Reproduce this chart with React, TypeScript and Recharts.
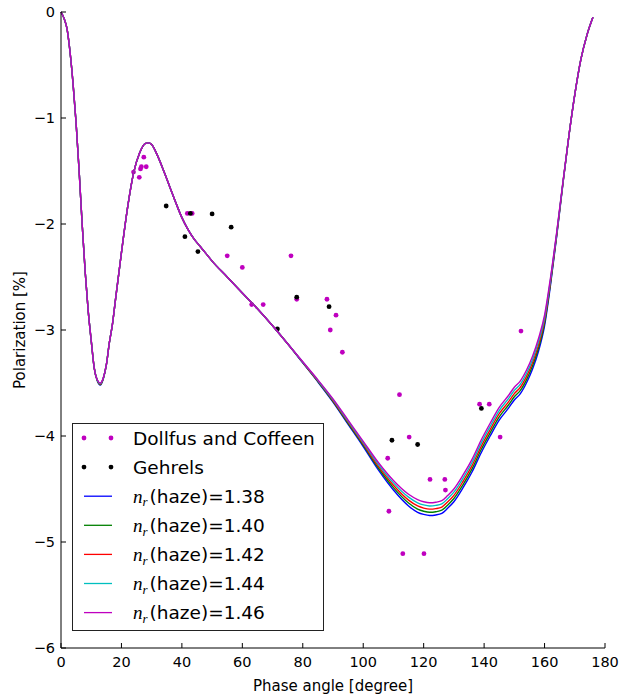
import React from 'react';
import { ComposedChart, Line, Scatter, XAxis, YAxis, Legend, Label } from 'recharts';

// Phase angle grid (degree) for model curves
const angles = [0, 1, 2, 3, 4, 5, 6, 7, 8, 9, 10, 11, 12, 13, 14, 15, 16, 17, 18, 20, 22, 24, 26, 28, 29, 30, 32, 34, 36, 38, 40, 42, 44, 46, 48, 50, 55, 60, 65, 70, 75, 80, 85, 90, 95, 100, 105, 110, 115, 118, 120, 122, 124, 126, 128, 130, 133, 136, 139, 142, 145, 148, 150, 152, 154, 156, 158, 160, 162, 164, 166, 168, 170, 172, 174, 176];

// Model curves: polarization [%] for n_r(haze)
const haze138 = [0, -0.06, -0.16, -0.38, -0.68, -1.05, -1.5, -2.0, -2.45, -2.82, -3.1, -3.36, -3.48, -3.52, -3.46, -3.33, -3.12, -2.95, -2.72, -2.27, -1.85, -1.52, -1.33, -1.24, -1.235, -1.25, -1.36, -1.5, -1.65, -1.8, -1.94, -2.05, -2.14, -2.21, -2.28, -2.35, -2.5, -2.65, -2.8, -2.96, -3.13, -3.31, -3.49, -3.68, -3.89, -4.1, -4.32, -4.51, -4.66, -4.72, -4.74, -4.75, -4.745, -4.73, -4.68, -4.62, -4.49, -4.34, -4.16, -4.0, -3.85, -3.74, -3.66, -3.6, -3.5, -3.37, -3.2, -2.96, -2.57, -2.12, -1.64, -1.18, -0.78, -0.45, -0.22, -0.05];
const haze140 = [0, -0.06, -0.16, -0.38, -0.68, -1.05, -1.5, -2.0, -2.45, -2.82, -3.1, -3.36, -3.477, -3.515, -3.457, -3.33, -3.12, -2.95, -2.72, -2.27, -1.85, -1.52, -1.33, -1.24, -1.235, -1.25, -1.36, -1.5, -1.65, -1.8, -1.94, -2.05, -2.14, -2.21, -2.28, -2.35, -2.5, -2.65, -2.8, -2.96, -3.13, -3.307, -3.485, -3.672, -3.88, -4.087, -4.302, -4.487, -4.632, -4.69, -4.71, -4.72, -4.715, -4.7, -4.65, -4.59, -4.46, -4.31, -4.13, -3.97, -3.82, -3.71, -3.63, -3.57, -3.47, -3.34, -3.17, -2.935, -2.552, -2.11, -1.635, -1.18, -0.78, -0.45, -0.22, -0.05];
const haze142 = [0, -0.06, -0.16, -0.38, -0.68, -1.05, -1.5, -2.0, -2.45, -2.82, -3.1, -3.36, -3.475, -3.51, -3.455, -3.33, -3.12, -2.95, -2.72, -2.27, -1.85, -1.52, -1.33, -1.24, -1.235, -1.25, -1.36, -1.5, -1.65, -1.8, -1.94, -2.05, -2.14, -2.21, -2.28, -2.35, -2.5, -2.65, -2.8, -2.96, -3.13, -3.305, -3.48, -3.665, -3.87, -4.075, -4.285, -4.465, -4.605, -4.66, -4.68, -4.69, -4.685, -4.67, -4.62, -4.56, -4.43, -4.28, -4.1, -3.94, -3.79, -3.68, -3.6, -3.54, -3.44, -3.31, -3.14, -2.91, -2.535, -2.1, -1.63, -1.18, -0.78, -0.45, -0.22, -0.05];
const haze144 = [0, -0.06, -0.16, -0.38, -0.68, -1.05, -1.5, -2.0, -2.45, -2.82, -3.1, -3.36, -3.472, -3.505, -3.452, -3.33, -3.12, -2.95, -2.72, -2.27, -1.85, -1.52, -1.33, -1.24, -1.235, -1.25, -1.36, -1.5, -1.65, -1.8, -1.94, -2.05, -2.14, -2.21, -2.28, -2.35, -2.5, -2.65, -2.8, -2.96, -3.13, -3.302, -3.475, -3.657, -3.86, -4.062, -4.267, -4.442, -4.577, -4.63, -4.65, -4.66, -4.655, -4.64, -4.59, -4.53, -4.4, -4.25, -4.07, -3.91, -3.76, -3.65, -3.57, -3.51, -3.41, -3.28, -3.11, -2.885, -2.517, -2.09, -1.625, -1.18, -0.78, -0.45, -0.22, -0.05];
const haze146 = [0, -0.06, -0.16, -0.38, -0.68, -1.05, -1.5, -2.0, -2.45, -2.82, -3.1, -3.36, -3.47, -3.5, -3.45, -3.33, -3.12, -2.95, -2.72, -2.27, -1.85, -1.52, -1.33, -1.24, -1.235, -1.25, -1.36, -1.5, -1.65, -1.8, -1.94, -2.05, -2.14, -2.21, -2.28, -2.35, -2.5, -2.65, -2.8, -2.96, -3.13, -3.3, -3.47, -3.65, -3.85, -4.05, -4.25, -4.42, -4.55, -4.6, -4.62, -4.63, -4.625, -4.61, -4.56, -4.5, -4.37, -4.22, -4.04, -3.88, -3.73, -3.62, -3.54, -3.48, -3.38, -3.25, -3.08, -2.86, -2.5, -2.08, -1.62, -1.18, -0.78, -0.45, -0.22, -0.05];

// Observations
const dollfusAngle = [24.0, 25.9, 26.3, 26.6, 27.4, 28.2, 41.8, 43.4, 55.0, 60.0, 63.1, 66.9, 76.1, 78.0, 88.0, 89.1, 91.0, 93.1, 108.1, 108.5, 112.0, 113.1, 115.2, 120.1, 122.1, 127.0, 127.2, 138.5, 141.7, 145.3, 152.2];
const dollfusPol = [-1.51, -1.56, -1.48, -1.46, -1.37, -1.46, -1.9, -1.9, -2.3, -2.41, -2.76, -2.76, -2.3, -2.71, -2.71, -3.0, -2.86, -3.21, -4.21, -4.71, -3.61, -5.11, -4.01, -5.11, -4.41, -4.41, -4.51, -3.7, -3.7, -4.01, -3.01];
const gehrelsAngle = [34.8, 41.0, 42.8, 45.3, 50.0, 56.3, 71.6, 78.0, 88.7, 109.5, 118.0, 139.1];
const gehrelsPol = [-1.83, -2.12, -1.9, -2.26, -1.905, -2.03, -2.99, -2.69, -2.78, -4.04, -4.08, -3.74];

const xTicks = [0, 20, 40, 60, 80, 100, 120, 140, 160, 180];
const yTicks = [-6, -5, -4, -3, -2, -1, 0];

const series = [
  { key: 's138', label: '1.38', color: '#0000ff', values: haze138 },
  { key: 's140', label: '1.40', color: '#008000', values: haze140 },
  { key: 's142', label: '1.42', color: '#ff0000', values: haze142 },
  { key: 's144', label: '1.44', color: '#00bfbf', values: haze144 },
  { key: 's146', label: '1.46', color: '#bf00bf', values: haze146 },
];

const chartData = angles.map((a, i) => {
  const row: any = { angle: a };
  series.forEach((s) => { row[s.key] = s.values[i]; });
  return row;
});
const dollfusData = dollfusAngle.map((a, i) => ({ angle: a, pol: dollfusPol[i] }));
const gehrelsData = gehrelsAngle.map((a, i) => ({ angle: a, pol: gehrelsPol[i] }));

const FONT = "'DejaVu Sans', sans-serif";
const fmt = (v: number) => (v < 0 ? '\u2212' + Math.abs(v) : String(v));

const BottomTick = (p: any) => (
  <g>
    <line x1={p.x} x2={p.x} y1={p.y} y2={p.y - 5} stroke="#000" strokeWidth={1} />
    <text x={p.x} y={p.y + 19} textAnchor="middle" fontSize={14.5} fontFamily={FONT} fill="#000">{fmt(p.payload.value)}</text>
  </g>
);
const TopTick = (p: any) => (
  <line x1={p.x} x2={p.x} y1={p.y} y2={p.y + 5} stroke="#000" strokeWidth={1} />
);
const LeftTick = (p: any) => (
  <g>
    <line x1={p.x} x2={p.x + 5} y1={p.y} y2={p.y} stroke="#000" strokeWidth={1} />
    <text x={p.x - 6} y={p.y + 5.3} textAnchor="end" fontSize={14.5} fontFamily={FONT} fill="#000">{fmt(p.payload.value)}</text>
  </g>
);
const RightTick = (p: any) => (
  <line x1={p.x} x2={p.x - 5} y1={p.y} y2={p.y} stroke="#000" strokeWidth={1} />
);

const Dot = (color: string) => (p: any) => <circle cx={p.cx} cy={p.cy} r={2.4} fill={color} />;

const legendRows = [
  { kind: 'dot', color: '#bf00bf', text: 'Dollfus and Coffeen' },
  { kind: 'dot', color: '#000000', text: 'Gehrels' },
  ...series.map((s) => ({ kind: 'line', color: s.color, text: s.label })),
];

const LegendBox = () => (
  <svg width={252} height={208} style={{ display: 'block' }}>
    <rect x={0.5} y={0.5} width={251} height={207} fill="#fff" stroke="#222" strokeWidth={1} />
    {legendRows.map((r, i) => {
      const cy = 15 + i * 29.1;
      return (
        <g key={i}>
          {r.kind === 'dot' ? (
            <g>
              <circle cx={12} cy={cy} r={2.4} fill={r.color} />
              <circle cx={39} cy={cy} r={2.4} fill={r.color} />
            </g>
          ) : (
            <line x1={12} x2={40} y1={cy} y2={cy} stroke={r.color} strokeWidth={1.3} />
          )}
          {r.kind === 'dot' ? (
            <text x={61} y={cy + 6.7} fontSize={18.5} fontFamily={FONT} fill="#000">{r.text}</text>
          ) : (
            <text x={61} y={cy + 6.7} fontSize={18.5} fontFamily={FONT} fill="#000">
              <tspan fontFamily="'Liberation Serif', serif" fontStyle="italic" fontSize={19}>n</tspan>
              <tspan fontFamily="'Liberation Serif', serif" fontStyle="italic" fontSize={13} dy={3.5}>r</tspan>
              <tspan dy={-3.5} dx={2}>{'(haze)=' + r.text}</tspan>
            </text>
          )}
        </g>
      );
    })}
  </svg>
);

const XLabel = (p: any) => {
  const vb = p.viewBox || { x: 61, y: 648, width: 544, height: 49 };
  return (
    <text x={vb.x + vb.width / 2} y={vb.y + 43} textAnchor="middle" fontSize={15} fontFamily={FONT} fill="#000">Phase angle [degree]</text>
  );
};
const YLabel = (p: any) => {
  const vb = p.viewBox || { x: 0, y: 12, width: 61, height: 636 };
  const cx = vb.x + 25;
  const cy = vb.y + vb.height / 2;
  return (
    <text x={cx} y={cy} transform={`rotate(-90, ${cx}, ${cy})`} textAnchor="middle" fontSize={15} fontFamily={FONT} fill="#000">Polarization [%]</text>
  );
};

export default function App() {
  return (
    <div style={{ position: 'absolute', left: 0, top: 0, width: 619, height: 697, background: '#fff' }}>
      <ComposedChart width={619} height={697} data={chartData} margin={{ top: 12, right: 14, left: 0, bottom: 0 }} style={{ fontFamily: FONT }}>
        <XAxis dataKey="angle" type="number" domain={[0, 180]} ticks={xTicks} interval={0} height={49} tickSize={0} tickMargin={0} tickLine={false} axisLine={{ stroke: '#000', strokeWidth: 1 }} tick={<BottomTick />}>
          <Label content={<XLabel />} />
        </XAxis>
        <XAxis xAxisId="top" orientation="top" dataKey="angle" type="number" domain={[0, 180]} ticks={xTicks} interval={0} height={0} tickSize={0} tickMargin={0} tickLine={false} axisLine={{ stroke: '#000', strokeWidth: 1 }} tick={<TopTick />} />
        <YAxis type="number" domain={[-6, 0]} ticks={yTicks} interval={0} width={61} tickSize={0} tickMargin={0} tickLine={false} axisLine={{ stroke: '#000', strokeWidth: 1 }} tick={<LeftTick />}>
          <Label content={<YLabel />} />
        </YAxis>
        <YAxis yAxisId="right" orientation="right" type="number" domain={[-6, 0]} ticks={yTicks} interval={0} width={0} tickSize={0} tickMargin={0} tickLine={false} axisLine={{ stroke: '#000', strokeWidth: 1 }} tick={<RightTick />} />
        <Scatter name="Dollfus and Coffeen" data={dollfusData} dataKey="pol" shape={Dot('#bf00bf')} isAnimationActive={false} zIndex={350} />
        <Scatter name="Gehrels" data={gehrelsData} dataKey="pol" shape={Dot('#000000')} isAnimationActive={false} zIndex={350} />
        {series.map((s) => (
          <Line key={s.key} dataKey={s.key} name={'n_r(haze)=' + s.label} type="monotone" stroke={s.color} strokeWidth={1.4} dot={false} activeDot={false} isAnimationActive={false} />
        ))}
        <Legend layout="vertical" align="center" verticalAlign="middle" content={<LegendBox />} wrapperStyle={{ position: 'absolute', left: 72, top: 423, width: 252, height: 208, margin: 0, padding: 0 }} />
      </ComposedChart>
    </div>
  );
}
